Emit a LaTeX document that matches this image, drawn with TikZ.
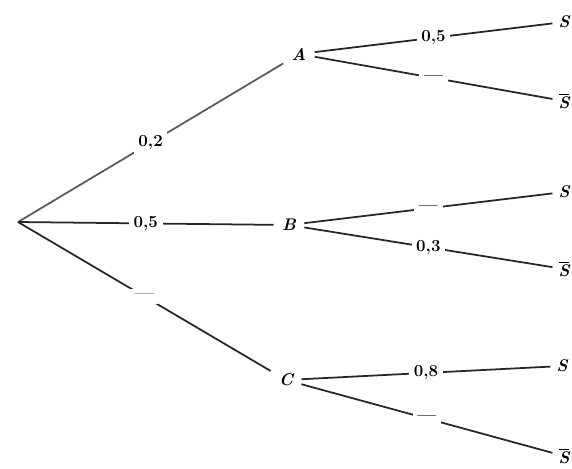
\documentclass[tikz,border=0pt]{standalone}
\usepackage{amsmath}
\usetikzlibrary{positioning}

\begin{document}
\begin{tikzpicture}[
      x=0.03cm,
      y=-0.03cm,
      event/.style={
        inner sep=7pt,
        font=\Large\bfseries\itshape
      },
      branch/.style={
        line width=1.5pt,
        draw=black!85
      },
      prob/.style={
        midway,
        fill=white,
        inner sep=4pt,
        font=\Large\bfseries
      }
  ]

    \useasboundingbox (0,0) rectangle (572,468);

    % Stamme og første niveau
    \coordinate (rod) at (18,222);
    \node[event] (A) at (299,54) {A};
    \node[event] (B) at (289,225) {B};
    \node[event] (C) at (286,380) {C};

    % Andet niveau
    \node[event, inner sep=5pt] (AS) at (564,22) {S};
    \node[event, inner sep=5pt] (ASn) at (564,101) {$\overline{\mbox{S}}$};
    \node[event, inner sep=5pt] (BS) at (564,192) {S};
    \node[event, inner sep=5pt] (BSn) at (564,269) {$\overline{\mbox{S}}$};
    \node[event, inner sep=5pt] (CS) at (562,366) {S};
    \node[event, inner sep=5pt] (CSn) at (564,456) {$\overline{\mbox{S}}$};

    \draw[branch, draw=black!65] (rod) -- (A) node[prob] {0,2};
    \draw[branch] (rod) -- (B) node[prob] {0,5};
    \draw[branch] (rod) -- (C) node[prob, text=black!60] {---};

    \draw[branch] (A) -- (AS) node[prob] {0,5};
    \draw[branch] (A) -- (ASn) node[prob] {---};
    \draw[branch] (B) -- (BS) node[prob] {---};
    \draw[branch] (B) -- (BSn) node[prob] {0,3};
    \draw[branch] (C) -- (CS) node[prob] {0,8};
    \draw[branch] (C) -- (CSn) node[prob] {---};

  \end{tikzpicture}
\end{document}
